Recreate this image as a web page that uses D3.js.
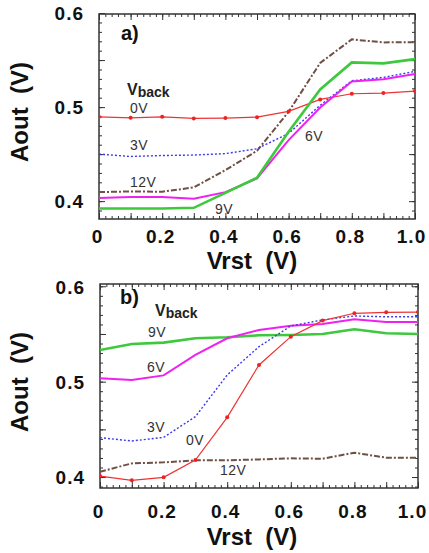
<!DOCTYPE html>
<html><head><meta charset="utf-8">
<script src="https://cdn.jsdelivr.net/npm/d3@7"></script>
<style>body{margin:0;background:#fff}svg{display:block}</style>
</head><body>
<svg id="c" width="429" height="553"></svg>
<script>
// ---- data ----
const vrst = [0,0.1,0.2,0.3,0.4,0.5,0.6,0.7,0.8,0.9,1.0];
const xTickLabels = ["0","0.2","0.4","0.6","0.8","1.0"];
const yTickLabels = ["0.4","0.5","0.6"];
// panel a
const a_0V  = [0.4897,0.4886,0.4897,0.4880,0.4883,0.4893,0.4954,0.5082,0.5142,0.5149,0.5170];
const a_3V  = [0.4500,0.4475,0.4485,0.4490,0.4505,0.4557,0.4720,0.5020,0.5280,0.5316,0.5380];
const a_6V  = [0.4032,0.4043,0.4043,0.4025,0.4096,0.4241,0.4649,0.4996,0.5273,0.5295,0.5351];
const a_9V  = [0.3922,0.3922,0.3922,0.3929,0.4088,0.4248,0.4737,0.5188,0.5475,0.5465,0.5510];
const a_12V = [0.4096,0.4103,0.4100,0.4146,0.4330,0.4535,0.4950,0.5470,0.5720,0.5688,0.5690];
// panel b
const b_0V  = [0.4010,0.3965,0.3997,0.4178,0.4626,0.5175,0.5472,0.5640,0.5717,0.5727,0.5730];
const b_3V  = [0.4413,0.4378,0.4416,0.4633,0.5070,0.5367,0.5584,0.5647,0.5689,0.5680,0.5680];
const b_6V  = [0.5035,0.5017,0.5066,0.5280,0.5455,0.5542,0.5587,0.5605,0.5654,0.5626,0.5626];
const b_9V  = [0.5332,0.5395,0.5409,0.5455,0.5465,0.5486,0.5490,0.5500,0.5549,0.5507,0.5500];
const b_12V = [0.4056,0.4143,0.4154,0.4175,0.4175,0.4185,0.4196,0.4192,0.4255,0.4203,0.4203];

const styles = {
  "0V":  {stroke:"#ee3333", w:1.2, dash:null, dots:true},
  "3V":  {stroke:"#3a3aee", w:1.4, dash:"2,2", dots:false},
  "6V":  {stroke:"#ee22ee", w:2,   dash:null, dots:false},
  "9V":  {stroke:"#3dc83d", w:2.6, dash:null, dots:false},
  "12V": {stroke:"#6e5045", w:2,   dash:"6,2,2,2", dots:false}
};

const svg = d3.select("#c");
const FONT = "'Liberation Sans', Arial, sans-serif";

function panel(cfg){
  const x = d3.scaleLinear().domain([0,1]).range([cfg.left,cfg.right]);
  const y = d3.scaleLinear().domain(cfg.ydom).range([cfg.bottom,cfg.top]);
  const g = svg.append("g");
  const H = cfg.bottom-cfg.top, W = cfg.right-cfg.left;
  const xMinor = d3.range(0,1.0001,0.02), xMajor = d3.range(0,1.0001,0.1);
  const yMinor = d3.range(0.39,0.6001,0.01).filter(v=>v>=cfg.ydom[0]&&v<=cfg.ydom[1]);
  const yMajor = [0.4,0.45,0.5,0.55,0.6].filter(v=>v>=cfg.ydom[0]&&v<=cfg.ydom[1]+0.001);
  function ticks(axisFn, scale, vals, size, tr){
    const ax = g.append("g").attr("transform",tr)
      .call(axisFn(scale).tickValues(vals).tickSize(size).tickFormat(""));
    ax.select(".domain").remove();
    ax.selectAll("line").attr("stroke","#333").attr("stroke-width",1);
  }
  ticks(d3.axisBottom,x,xMinor,-3,`translate(0,${cfg.bottom})`);
  ticks(d3.axisBottom,x,xMajor,-6,`translate(0,${cfg.bottom})`);
  ticks(d3.axisTop,x,xMinor,-3,`translate(0,${cfg.top})`);
  ticks(d3.axisTop,x,xMajor,-6,`translate(0,${cfg.top})`);
  ticks(d3.axisLeft,y,yMinor,-3,`translate(${cfg.left},0)`);
  ticks(d3.axisLeft,y,yMajor,-6,`translate(${cfg.left},0)`);
  ticks(d3.axisRight,y,yMinor,-3,`translate(${cfg.right},0)`);
  ticks(d3.axisRight,y,yMajor,-6,`translate(${cfg.right},0)`);
  g.append("rect").attr("x",cfg.left).attr("y",cfg.top).attr("width",W).attr("height",H)
    .attr("fill","none").attr("stroke","#333").attr("stroke-width",1.5);

  // tick labels
  const xl = g.append("g").attr("transform",`translate(0,${cfg.bottom})`)
    .call(d3.axisBottom(x).tickValues(xTickLabels.map(Number)).tickSize(0)
      .tickFormat((d,i)=>xTickLabels[i]));
  xl.select(".domain").remove();
  xl.selectAll("text").attr("font-family",FONT).attr("font-weight","bold")
    .attr("font-size",19).attr("letter-spacing","1px").attr("fill","#111")
    .attr("dy",0).attr("y",cfg.xlabY-cfg.bottom)
    .attr("dx",(d,i,n)=> i===n.length-1 ? cfg.lastDx : -2);
  const yl = g.append("g").attr("transform",`translate(${cfg.left},0)`)
    .call(d3.axisLeft(y).tickValues(yTickLabels.map(Number)).tickSize(0)
      .tickFormat((d,i)=>yTickLabels[i]));
  yl.select(".domain").remove();
  yl.selectAll("text").attr("font-family",FONT).attr("font-weight","bold")
    .attr("font-size",19).attr("letter-spacing","1px").attr("fill","#111")
    .attr("x",-15).attr("dy","0.36em");

  // axis titles
  g.append("text").attr("x",252).attr("y",cfg.xtitleY).attr("text-anchor","middle")
    .attr("font-family",FONT).attr("font-weight","bold").attr("font-size",24)
    .attr("fill","#111").attr("xml:space","preserve").text("Vrst  (V)");
  g.append("text").attr("transform",`translate(28,${cfg.ytitleY}) rotate(-90)`)
    .attr("text-anchor","middle").attr("font-family",FONT).attr("font-weight","bold")
    .attr("font-size",24).attr("fill","#111").attr("xml:space","preserve").text("Aout  (V)");

  // series
  const line = d3.line().x((d,i)=>x(vrst[i])).y(d=>y(d));
  const clip = "clip"+cfg.name;
  g.append("clipPath").attr("id",clip).append("rect")
    .attr("x",cfg.left).attr("y",cfg.top).attr("width",W).attr("height",H);
  const sg = g.append("g").attr("clip-path",`url(#${clip})`);
  cfg.order.forEach(k=>{
    const s = styles[k], data = cfg.series[k];
    sg.append("path").datum(data).attr("d",line).attr("fill","none")
      .attr("stroke",s.stroke).attr("stroke-width",s.w)
      .attr("stroke-dasharray",s.dash);
    if(s.dots){
      sg.selectAll(null).data(data).join("circle")
        .attr("cx",(d,i)=>x(vrst[i])).attr("cy",d=>y(d)).attr("r",2).attr("fill","#ee2222");
    }
  });

  // panel label
  g.append("text").attr("x",cfg.tag[0]).attr("y",cfg.tag[1]).attr("font-family",FONT)
    .attr("font-weight","bold").attr("font-size",20).attr("fill","#111").text(cfg.name+")");
  const vb = g.append("text").attr("x",cfg.vback[0]).attr("y",cfg.vback[1])
    .attr("font-family",FONT).attr("font-weight","bold").attr("fill","#222");
  vb.append("tspan").attr("font-size",16).text("V");
  vb.append("tspan").attr("font-size",14).attr("dy",2).text("back");
  Object.entries(cfg.labels).forEach(([t,p])=>{
    g.append("text").attr("x",p[0]).attr("y",p[1]).attr("font-family",FONT)
      .attr("font-size",14).attr("letter-spacing","0.5px").attr("fill","#333").text(t);
  });
}

panel({name:"a", left:99, right:415, top:14, bottom:219, ydom:[0.381,0.599],
  xlabY:243, xtitleY:269, ytitleY:112, tag:[121,40], vback:[127,95], lastDx:-4,
  series:{"0V":a_0V,"3V":a_3V,"6V":a_6V,"9V":a_9V,"12V":a_12V},
  order:["12V","3V","0V","6V","9V"],
  labels:{"0V":[130,113],"3V":[130,150],"12V":[130,187],"9V":[215,214],"6V":[305,141]}});

panel({name:"b", left:100, right:418, top:284, bottom:488, ydom:[0.3885,0.6024],
  xlabY:518, xtitleY:545, ytitleY:382, tag:[120,304], vback:[155,316], lastDx:-6,
  series:{"0V":b_0V,"3V":b_3V,"6V":b_6V,"9V":b_9V,"12V":b_12V},
  order:["12V","9V","6V","3V","0V"],
  labels:{"9V":[148,337],"6V":[147,372],"3V":[147,432],"0V":[186,445],"12V":[220,475]}});
</script>
</body></html>
